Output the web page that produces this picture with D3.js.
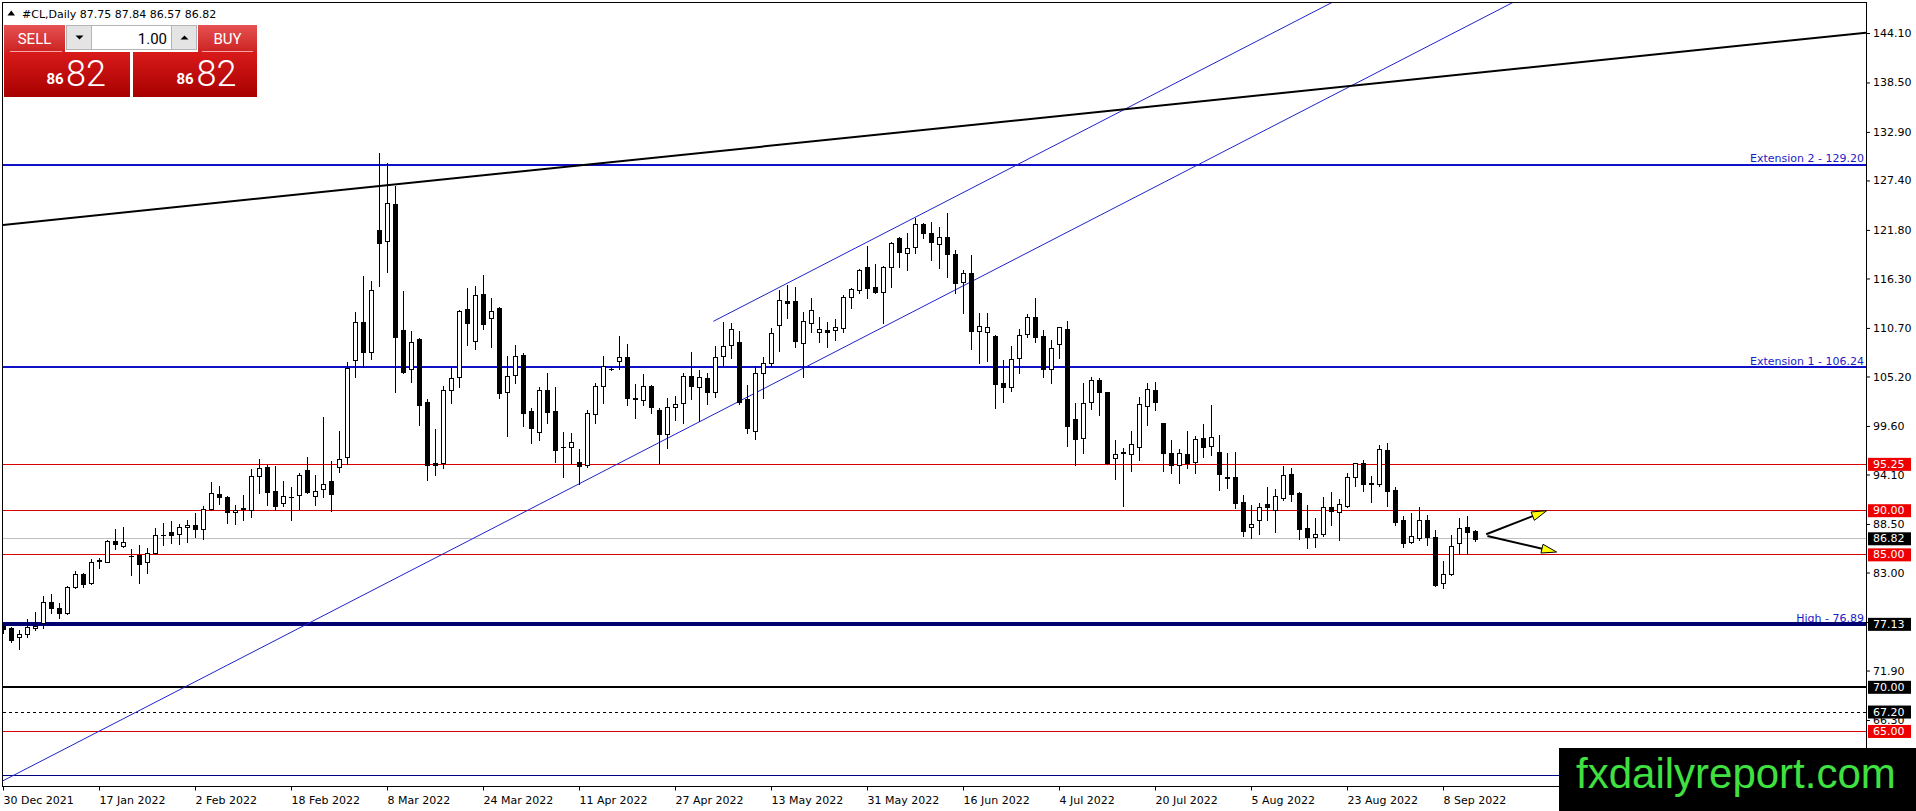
<!DOCTYPE html>
<meta charset="utf-8">
<style>
body { margin: 0; background: #fff; overflow: hidden; }
svg { display: block; }
text { font-family: "DejaVu Sans", sans-serif; font-size: 11px; }
.panel text { font-family: Roboto, "Liberation Sans", sans-serif; }
</style>
<body>
<script src="https://cdn.jsdelivr.net/npm/d3@7"></script>
<script>
// daily bars of #CL, first bar is 30 Dec 2021, last is 14 Sep 2022
var opens = [76.9,76.68,75.66,76.0,76.75,77.25,79.63,78.95,78.46,81.40,
82.80,81.78,84.35,84.23,86.57,86.04,84.9,84.99,84.15,85.25,
87.28,87.59,87.40,88.12,88.35,87.97,90.16,91.9,91.59,89.82,
90.2,90.08,93.93,94.91,92.23,90.84,91.60,91.78,94.61,91.71,
92.50,93.37,94.99,96.12,107.06,111.33,107.93,121.79,120.58,124.73,
110.46,106.01,109.44,102.31,95.44,95.36,103.67,105.10,112.84,109.25,
114.50,111.78,112.92,103.48,105.33,107.63,101.29,98.95,103.67,101.29,
97.2,97.17,95.55,95.21,100.95,104.12,106.1,106.99,107.37,102.75,
102.53,104.12,101.40,98.68,101.78,102.16,105.25,103.97,105.06,103.48,
107.52,108.76,109.10,102.61,99.06,105.56,106.69,111.03,113.75,113.75,
109.03,111.22,110.28,110.46,110.46,110.65,114.16,114.99,117.56,115.37,
114.81,117.56,120.85,119.15,119.83,122.43,121.49,120.17,121.03,119.03,
115.94,116.88,110.39,110.28,109.79,104.45,103.97,107.26,110.01,111.90,
109.79,106.01,108.88,110.54,100.35,98.2,102.27,104.80,103.41,95.93,
96.6,96.39,97.26,101.86,103.67,99.90,96.50,95.18,96.42,95.56,
98.2,97.37,96.61,93.80,93.78,91.03,88.12,88.95,90.76,90.08,
91.48,94.16,92.04,88.0,87.06,87.32,90.38,89.85,90.57,93.85,
95.37,93.12,93.03,96.88,92.35,88.95,86.49,86.87,88.95,86.98,
81.85,82.79,86.30,88.12,87.75];
var highs = [77.2,76.8,76.5,77.7,78.57,80.38,80.57,79.51,81.51,83.17,
82.99,84.53,84.6,86.68,87.89,88.12,85.7,86.12,85.74,88.0,
88.57,88.84,88.46,88.95,89.71,90.54,93.25,92.8,91.67,90.65,
91.78,94.69,95.82,95.18,95.06,93.37,92.65,94.24,96.12,94.05,
100.65,95.6,99.02,106.88,112.46,116.62,116.01,130.47,129.41,126.77,
114.88,110.35,109.56,102.61,99.21,104.16,106.2,112.73,115.22,115.45,
116.69,114.05,113.1,107.5,108.76,107.82,101.59,104.05,105.55,104.05,
98.87,98.76,96.95,101.4,104.42,107.56,106.3,109.78,108.88,104.35,
105.44,104.23,101.59,102.8,102.99,105.63,108.01,105.93,105.55,108.65,
111.41,111.29,110.39,104.2,106.39,107.45,110.73,114.99,115.56,115.37,
112.54,114.05,111.9,111.41,111.67,114.43,115.26,117.34,119.98,117.94,
117.71,120.47,120.96,121.41,123.11,122.62,122.73,122.17,123.68,119.52,
117.26,118.96,112.35,112.43,109.9,107.07,108.66,110.54,112.28,114.05,
110.47,109.34,110.84,111.49,102.16,104.43,105.18,104.99,103.5,98.01,
97.07,99.03,102.91,104.5,104.62,99.95,98.01,96.95,99.03,98.46,
99.82,101.97,98.58,96.57,96.61,91.78,90.65,90.91,92.65,92.42,
95.10,94.80,92.16,90.65,89.14,91.52,92.16,91.29,94.31,95.45,
95.74,93.97,97.44,97.63,92.72,89.40,89.70,90.38,89.51,87.81,
84.30,87.25,89.14,89.40,87.84];
var lows = [76.2,75.17,74.3,75.74,76.5,76.76,78.38,77.81,78.3,81.29,
81.40,81.70,83.48,84.15,85.70,85.85,82.76,81.85,82.99,85.1,
86.12,86.38,86.27,86.50,87.06,86.76,90.08,90.72,88.57,88.46,
88.95,89.25,92.05,90.65,90.08,90.57,88.95,90.19,91.97,90.65,
91.52,90.0,94.42,95.29,105.18,106.3,107.18,115.45,117.07,103.48,
105.56,104.54,99.70,93.47,94.04,94.8,102.16,104.05,108.76,108.31,
110.58,108.57,102.8,98.49,104.5,99.63,97.7,98.0,99.89,95.55,
93.85,95.36,93.02,94.9,99.89,102.16,105.9,106.01,101.97,100.46,
101.97,101.1,95.36,97.06,100.27,99.89,102.61,100.2,102.08,102.91,
106.39,107.25,102.08,98.83,98.12,102.73,106.39,108.13,111.79,108.58,
105.1,110.28,109.14,108.58,109.33,110.28,112.92,114.62,114.13,114.62,
111.22,115.37,117.64,117.26,119.22,120.85,118.39,117.45,116.51,114.62,
112.35,108.28,106.77,106.99,101.59,102.35,103.60,105.56,109.64,109.15,
105.11,104.50,107.26,97.37,95.18,96.57,101.48,100.84,95.3,93.59,
90.54,94.50,95.75,99.71,101.41,94.54,94.24,93.10,94.80,94.24,
96.12,96.31,92.35,92.61,90.35,87.14,86.87,87.36,88.95,87.63,
91.21,91.14,86.76,85.74,85.85,87.14,88.38,86.68,90.46,92.80,
92.27,91.03,92.84,90.53,88.38,85.93,86.30,86.68,86.12,81.47,
81.21,82.72,85.10,85.10,86.57];
var closes = [76.6,75.36,76.04,76.87,76.9,79.63,78.95,78.46,81.32,82.80,
81.66,84.23,84.45,86.57,86.19,86.42,84.88,84.0,85.18,87.21,
87.2,87.29,88.12,88.35,87.97,90.16,91.97,91.59,89.89,90.08,
90.3,93.93,94.80,92.08,90.57,91.67,91.56,94.05,92.08,92.23,
93.03,91.90,95.82,106.20,111.33,108.01,114.96,120.35,124.81,109.63,
105.74,109.10,101.97,95.17,95.17,103.67,104.99,112.61,111.29,114.43,
111.18,112.61,103.37,105.25,107.48,101.1,99.40,103.67,101.21,96.87,
97.17,97.82,95.1,101.02,104.16,106.42,106.0,107.44,102.72,102.70,
104.12,101.70,98.65,101.78,102.08,105.25,104.12,105.18,103.48,107.44,
108.65,110.54,102.35,99.33,105.56,106.69,110.16,113.86,113.48,109.26,
111.52,112.73,110.54,110.28,110.77,114.24,115.07,117.26,115.26,114.81,
117.56,120.35,119.34,119.71,122.43,121.41,120.47,120.96,119.03,115.75,
116.96,110.39,110.96,110.77,104.31,104.05,107.14,109.9,111.90,109.64,
106.01,108.39,110.77,99.60,98.09,102.16,104.80,103.48,95.44,96.39,
96.55,97.52,102.05,103.75,102.35,96.57,95.18,96.50,95.44,98.09,
97.26,98.31,94.12,93.76,90.91,87.74,88.46,90.46,90.46,91.67,
94.04,91.85,87.89,87.06,87.32,90.38,89.97,90.72,93.78,95.37,
92.99,93.08,96.95,92.27,88.76,86.38,87.17,88.95,86.98,81.59,
82.79,86.04,88.00,87.63,86.82];

// time axis labels, every 12th bar
var dateTickBars = [0,12,24,36,48,60,72,84,96,108,120,132,144,156,168,180];
var dateTickLabels = ["30 Dec 2021","17 Jan 2022","2 Feb 2022","18 Feb 2022","8 Mar 2022","24 Mar 2022",
  "11 Apr 2022","27 Apr 2022","13 May 2022","31 May 2022","16 Jun 2022","4 Jul 2022",
  "20 Jul 2022","5 Aug 2022","23 Aug 2022","8 Sep 2022"];

// price scale labels
var priceTicks = [144.10,138.50,132.90,127.40,121.80,116.30,110.70,105.20,99.60,94.10,88.50,83.00,77.40,71.90,66.30,60.80];

// horizontal levels
var levelNames  = ["ext2","ext1","r95","r90","bid","s85","high","s70","s67","s65","s60"];
var levelPrices = [129.20,106.24,95.25,90.00,86.82,85.00,77.13,70.00,67.20,65.00,60.00];
var levelTexts  = {ext2: "Extension 2 - 129.20", ext1: "Extension 1 - 106.24", high: "High - 76.89"};

// trend line and channel, as [bar, price] anchors
var trendBars = [-1, 233], trendPrices = [122.27, 144.15];
var chanLowBars = [-1, 196], chanLowPrices = [58.95, 150.95];
var chanUpBars = [88.8, 170], chanUpPrices = [111.45, 149.37];

// the two arrows: start and tip
var arrowBars0 = [185.4, 185.55], arrowPrices0 = [87.33, 87.14];
var arrowBars1 = [192.96, 194.2], arrowPrices1 = [90.0, 85.32];

var levelStyle = {
  ext2: {stroke: "#1010c8", width: 2},
  ext1: {stroke: "#1010c8", width: 2},
  r95:  {stroke: "#d80000", width: 1, box: "#ee0000"},
  r90:  {stroke: "#d80000", width: 1, box: "#ee0000"},
  bid:  {stroke: "#c0c0c0", width: 1, box: "#000"},
  s85:  {stroke: "#d80000", width: 1, box: "#ee0000"},
  high: {stroke: "#000070", width: 4, box: "#000"},
  s70:  {stroke: "#000", width: 2, box: "#000"},
  s67:  {stroke: "#000", width: 1, box: "#000", dash: "3,3"},
  s65:  {stroke: "#d80000", width: 1, box: "#ee0000"},
  s60:  {stroke: "#000080", width: 1}
};

var W = 1916, H = 811;
var svg = d3.select("body").append("svg").attr("width", W).attr("height", H);

var x = d3.scaleLinear().domain([0, 232.875]).range([3, 1866]);
var y = d3.scaleLinear().domain([58.767, 147.554]).range([786.5, 2.5]);

function crisp(v, w) { return w % 2 === 1 ? Math.round(v - 0.5) + 0.5 : Math.round(v); }

svg.append("clipPath").attr("id", "plot")
  .append("rect").attr("x", 3).attr("y", 3).attr("width", 1863).attr("height", 783);

var plot = svg.append("g").attr("clip-path", "url(#plot)");

// level captions sit just above their lines, right aligned
levelNames.forEach(function(n, i) {
  if (!levelTexts[n]) return;
  plot.append("text")
    .attr("x", 1864).attr("y", y(levelPrices[i]) - 2.5)
    .attr("text-anchor", "end").attr("fill", "#1c1cc8")
    .text(levelTexts[n]);
});

plot.selectAll(".level").data(levelNames).join("line")
  .attr("class", "level")
  .attr("x1", 3).attr("x2", 1866)
  .attr("y1", function(n, i) { return crisp(y(levelPrices[i]), levelStyle[n].width); })
  .attr("y2", function(n, i) { return crisp(y(levelPrices[i]), levelStyle[n].width); })
  .attr("stroke", function(n) { return levelStyle[n].stroke; })
  .attr("stroke-width", function(n) { return levelStyle[n].width; })
  .attr("stroke-dasharray", function(n) { return levelStyle[n].dash || null; });

function seg(bars, prices, color, width) {
  plot.append("line")
    .attr("x1", x(bars[0])).attr("y1", y(prices[0]))
    .attr("x2", x(bars[1])).attr("y2", y(prices[1]))
    .attr("stroke", color).attr("stroke-width", width);
}
seg(chanLowBars, chanLowPrices, "#2222cc", 1);
seg(chanUpBars, chanUpPrices, "#2222cc", 1);
seg(trendBars, trendPrices, "#000", 2);

// candles
var bars = d3.range(opens.length).map(function(i) {
  return {i: i, o: opens[i], h: highs[i], l: lows[i], c: closes[i]};
});
var cg = plot.append("g");
bars.forEach(function(d) {
  var cx = Math.round(x(d.i)) + 0.5;
  cg.append("line").attr("x1", cx).attr("x2", cx)
    .attr("y1", Math.round(y(d.h))).attr("y2", Math.round(y(d.l)) + 1)
    .attr("stroke", "#000");
  var yt = Math.round(y(Math.max(d.o, d.c))), yb = Math.round(y(Math.min(d.o, d.c)));
  if (yb - yt < 1) {
    cg.append("line").attr("x1", cx - 2.5).attr("x2", cx + 2.5)
      .attr("y1", yt + 0.5).attr("y2", yt + 0.5).attr("stroke", "#000");
  } else {
    cg.append("rect").attr("x", cx - 2).attr("width", 4)
      .attr("y", yt + 0.5).attr("height", yb - yt)
      .attr("fill", d.c >= d.o ? "#fff" : "#000").attr("stroke", "#000");
  }
});

// arrows
arrowBars0.forEach(function(b, i) {
  var x0 = x(b), y0 = y(arrowPrices0[i]), x1 = x(arrowBars1[i]), y1 = y(arrowPrices1[i]);
  var dx = x1 - x0, dy = y1 - y0, len = Math.sqrt(dx * dx + dy * dy);
  var ux = dx / len, uy = dy / len;
  plot.append("line").attr("x1", x0).attr("y1", y0).attr("x2", x1 - ux * 6).attr("y2", y1 - uy * 6)
    .attr("stroke", "#000").attr("stroke-width", 2);
  var bx = x1 - ux * 15, by = y1 - uy * 15;
  plot.append("path")
    .attr("d", "M" + x1 + "," + y1 + "L" + (bx - uy * 4.5) + "," + (by + ux * 4.5) +
      "L" + (bx + uy * 4.5) + "," + (by - ux * 4.5) + "Z")
    .attr("fill", "#ffff00").attr("stroke", "#000").attr("stroke-width", 1);
});

// frame
svg.append("rect").attr("x", 2.5).attr("y", 2.5).attr("width", 1864).attr("height", 784)
  .attr("fill", "none").attr("stroke", "#000");
svg.append("line").attr("x1", 1866.5).attr("x2", 1866.5).attr("y1", 786.5).attr("y2", 811).attr("stroke", "#000");

// price axis
var gy = svg.append("g").attr("transform", "translate(1866,0)")
  .call(d3.axisRight(y).tickValues(priceTicks).tickFormat(d3.format(".2f"))
    .tickSize(4).tickSizeOuter(0).tickPadding(3));
gy.attr("font-family", "DejaVu Sans").attr("font-size", 11);
gy.select(".domain").remove();

// time axis
var gx = svg.append("g").attr("transform", "translate(0,786.5)")
  .call(d3.axisBottom(x).tickValues(dateTickBars)
    .tickFormat(function(d, i) { return dateTickLabels[i]; })
    .tickSize(4).tickSizeOuter(0).tickPadding(6));
gx.attr("font-family", "DejaVu Sans").attr("font-size", 11);
gx.select(".domain").remove();
gx.selectAll("text").attr("text-anchor", "start");

// price boxes on the scale
levelNames.forEach(function(n, i) {
  var s = levelStyle[n];
  if (!s.box) return;
  var yy = y(levelPrices[i]);
  svg.append("rect").attr("x", 1868).attr("y", yy - 6.5).attr("width", 43).attr("height", 13).attr("fill", s.box);
  svg.append("text").attr("x", 1873).attr("y", yy).attr("dy", "0.32em")
    .attr("fill", "#fff").text(d3.format(".2f")(levelPrices[i]));
});

// header
svg.append("path").attr("d", "M7.5,15.5L15,15.5L11.25,10.5Z").attr("fill", "#000");
svg.append("text").attr("x", 22).attr("y", 17.5).attr("fill", "#000")
  .text("#CL,Daily " + [opens[184], highs[184], lows[184], closes[184]].map(d3.format(".2f")).join(" "));

// one click trading panel
var defs = svg.append("defs");
var g1 = defs.append("linearGradient").attr("id", "btn").attr("x1", 0).attr("x2", 0).attr("y1", 0).attr("y2", 1);
g1.append("stop").attr("offset", "0%").attr("stop-color", "#e65252");
g1.append("stop").attr("offset", "100%").attr("stop-color", "#cc2222");
var g2 = defs.append("linearGradient").attr("id", "px").attr("x1", 0).attr("x2", 0).attr("y1", 0).attr("y2", 1);
g2.append("stop").attr("offset", "0%").attr("stop-color", "#d91a1a");
g2.append("stop").attr("offset", "100%").attr("stop-color", "#a80000");

var panel = svg.append("g").attr("class", "panel");
panel.append("rect").attr("x", 4).attr("y", 25).attr("width", 61).attr("height", 27).attr("fill", "url(#btn)");
panel.append("rect").attr("x", 198).attr("y", 25).attr("width", 59).attr("height", 27).attr("fill", "url(#btn)");
panel.append("rect").attr("x", 4).attr("y", 52).attr("width", 126).attr("height", 45).attr("fill", "url(#px)");
panel.append("rect").attr("x", 133).attr("y", 52).attr("width", 124).attr("height", 45).attr("fill", "url(#px)");
panel.append("line").attr("x1", 10).attr("x2", 62).attr("y1", 51.5).attr("y2", 51.5).attr("stroke", "#f4a6a6");
panel.append("line").attr("x1", 202).attr("x2", 253).attr("y1", 51.5).attr("y2", 51.5).attr("stroke", "#f4a6a6");
panel.append("text").attr("x", 34.5).attr("y", 44).attr("text-anchor", "middle").attr("fill", "#fff")
  .style("font-size", "15px").text("SELL");
panel.append("text").attr("x", 227.5).attr("y", 44).attr("text-anchor", "middle").attr("fill", "#fff")
  .style("font-size", "15px").text("BUY");
panel.append("rect").attr("x", 66.5).attr("y", 25.5).attr("width", 130).attr("height", 24)
  .attr("fill", "#fff").attr("stroke", "#b4b4b4");
panel.append("rect").attr("x", 66.5).attr("y", 25.5).attr("width", 25).attr("height", 24)
  .attr("fill", "#e4e4e4").attr("stroke", "#b4b4b4");
panel.append("rect").attr("x", 171.5).attr("y", 25.5).attr("width", 25).attr("height", 24)
  .attr("fill", "#e4e4e4").attr("stroke", "#b4b4b4");
panel.append("path").attr("d", "M75.5,35.5L83.5,35.5L79.5,39.5Z").attr("fill", "#000");
panel.append("path").attr("d", "M180.5,39.5L188.5,39.5L184.5,35.5Z").attr("fill", "#000");
panel.append("text").attr("x", 167).attr("y", 43.5).attr("text-anchor", "end").attr("fill", "#000")
  .style("font-size", "15px").text("1.00");
var bid = d3.format(".2f")(closes[184]).split(".");
[[46.5, 66], [176.5, 196.5]].forEach(function(p) {
  panel.append("text").attr("x", p[0]).attr("y", 84).attr("fill", "#fff")
    .style("font-size", "15px").style("font-weight", "bold").text(bid[0]);
  panel.append("text").attr("x", p[1]).attr("y", 85.5).attr("fill", "#fff")
    .style("font-size", "36px").style("font-weight", "300").text(bid[1]);
});

// watermark
svg.append("rect").attr("x", 1559).attr("y", 748).attr("width", 357).attr("height", 63).attr("fill", "#000");
svg.append("text").attr("x", 1576).attr("y", 788).attr("fill", "#40e040")
  .style("font-family", "'Liberation Sans', Arial, sans-serif").style("font-size", "42px")
  .text("fxdailyreport.com");
</script>
</body>
